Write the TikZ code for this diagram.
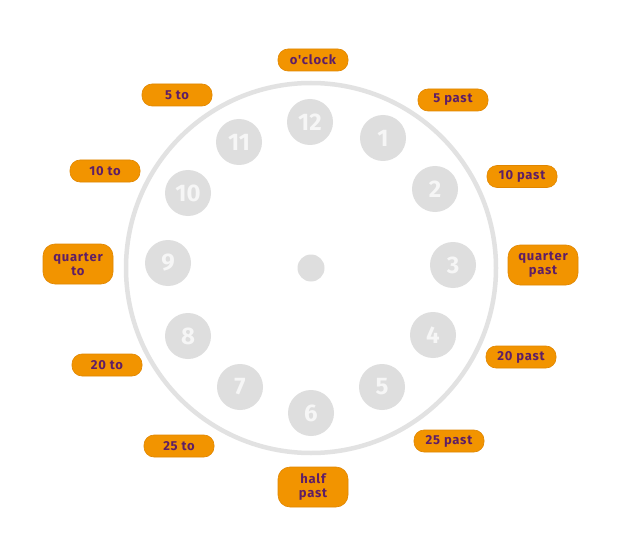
\documentclass[tikz,border=0pt]{standalone}
\usepackage{fontspec}
\setmainfont{Fira Sans}
\newfontfamily\lblfont[LetterSpace=6]{Fira Sans}
\definecolor{ringgray}{HTML}{E2E2E2}
\definecolor{numgray}{HTML}{DEDEDE}
\definecolor{numwhite}{HTML}{F6F6F6}
\definecolor{boxorange}{HTML}{F29400}
\definecolor{boxedge}{HTML}{E08600}
\definecolor{txtpurple}{HTML}{5E1E66}
\tikzset{
  x=1pt,y=1pt,
  numcirc/.style={circle,fill=numgray,minimum size=46pt,inner sep=0pt,text=numwhite,font=\fontsize{24}{24}\selectfont\bfseries},
  tlabel/.style={rounded corners=10pt,fill=boxorange,draw=boxedge,line width=0.6pt,minimum width=70pt,minimum height=22pt,inner sep=1pt,text=txtpurple,font=\lblfont\fontsize{13}{14}\selectfont\bfseries,align=center},
  tlabeltwo/.style={tlabel,minimum height=40pt,rounded corners=12pt}
}
\begin{document}
\begin{tikzpicture}
\useasboundingbox (0,0) rectangle (621,550);
\fill[white] (0,0) rectangle (621,550);
% ring
\node[circle,draw=ringgray,line width=4.5pt,minimum size=370pt,inner sep=0pt] (ring) at (311,282) {};
\node[circle,fill=numgray,minimum size=27pt,inner sep=0pt] (hub) at (311,282) {};
% numbers
\node[numcirc] (n12) at (310,428) {12};
\node[numcirc] (n1) at (383,412) {1};
\node[numcirc] (n2) at (435,361) {2};
\node[numcirc] (n3) at (453,285) {3};
\node[numcirc] (n4) at (433,215) {4};
\node[numcirc] (n5) at (382,163) {5};
\node[numcirc] (n6) at (311,137) {6};
\node[numcirc] (n7) at (240,163) {7};
\node[numcirc] (n8) at (188,214) {8};
\node[numcirc] (n9) at (168,287) {9};
\node[numcirc] (n10) at (188,357) {10};
\node[numcirc] (n11) at (239,408) {11};
% labels
\node[tlabel] (l0) at (313,490) {o'clock};
\node[tlabel] (l5) at (453,450) {5 past};
\node[tlabel] (l10) at (522,373.5) {10 past};
\node[tlabeltwo] (l15) at (543,285) {quarter\\past};
\node[tlabel] (l20) at (521,193) {20 past};
\node[tlabel] (l25) at (449,109) {25 past};
\node[tlabeltwo] (l30) at (313,63) {half\\past};
\node[tlabel] (l35) at (179,104) {25 to};
\node[tlabel] (l40) at (107,185) {20 to};
\node[tlabeltwo] (l45) at (78,286) {quarter\\to};
\node[tlabel] (l50) at (105,379) {10 to};
\node[tlabel] (l55) at (177,455) {5 to};
\end{tikzpicture}
\end{document}
